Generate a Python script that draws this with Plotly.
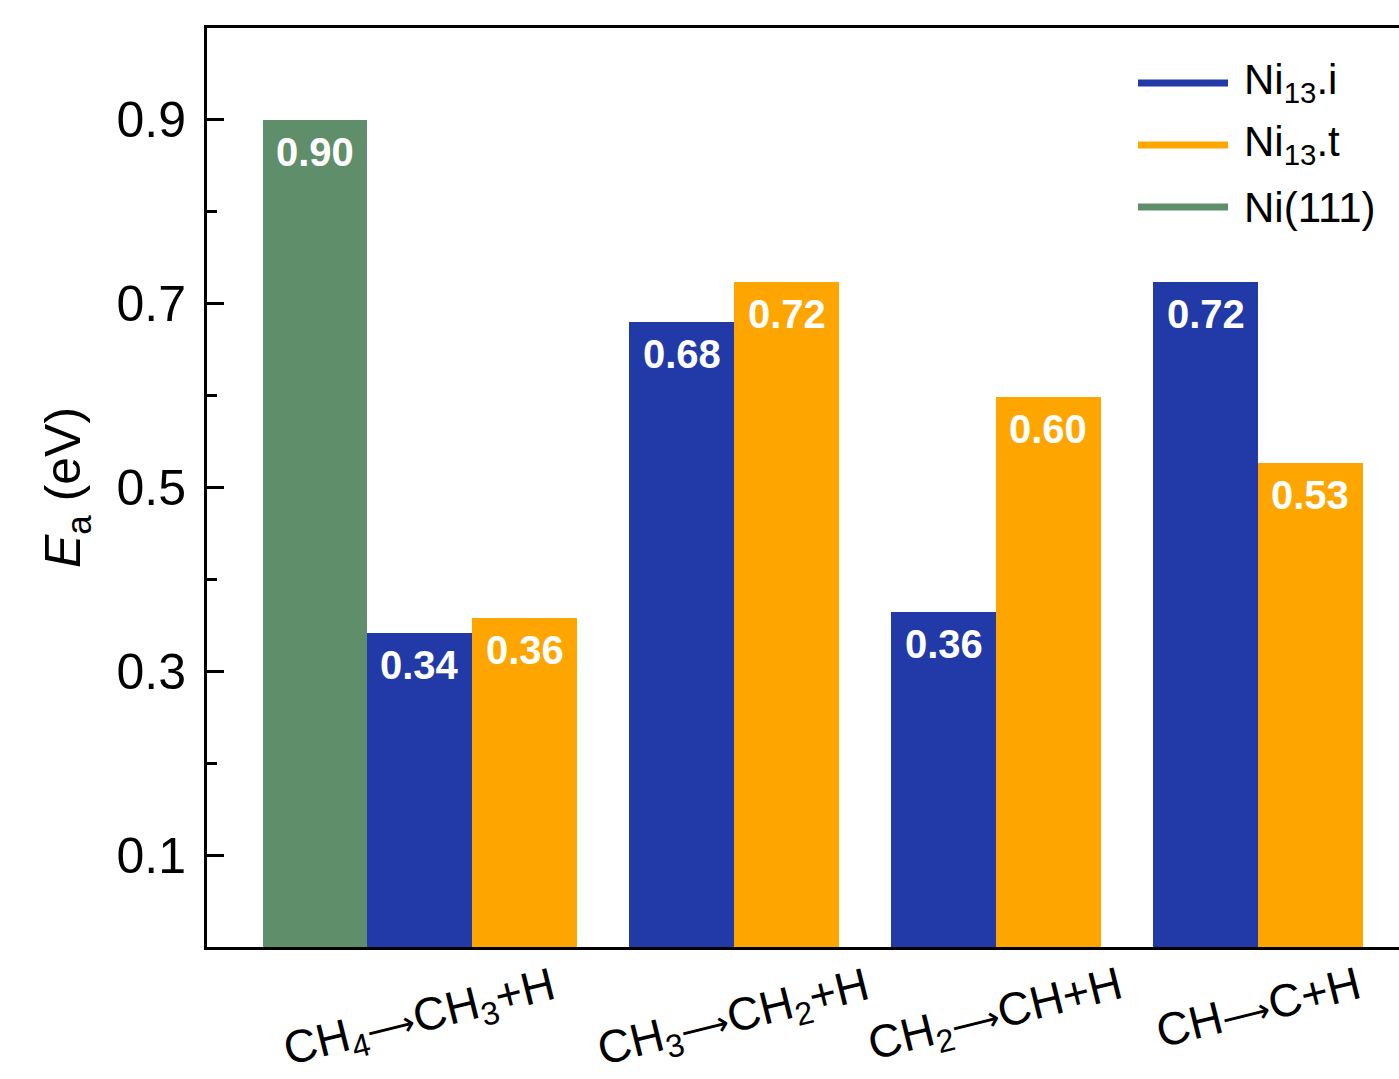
import plotly.graph_objects as go

# ---- data ----
ARROW = "<span style=\"font-family:'DejaVu Sans';font-size:34px\">⟶</span>"
categories = [f"CH<sub>4</sub>{ARROW}CH<sub>3</sub>+H", f"CH<sub>3</sub>{ARROW}CH<sub>2</sub>+H",
              f"CH<sub>2</sub>{ARROW}CH+H", f"CH{ARROW}C+H"]
ni13_i = [0.342, 0.680, 0.364, 0.724]
ni13_t = [0.358, 0.724, 0.598, 0.527]
ni111 = [0.900, None, None, None]
series_names = ["Ni<sub>13</sub>.i", "Ni<sub>13</sub>.t", "Ni(111)"]
y_ticks = [0.1, 0.3, 0.5, 0.7, 0.9]
y_minor = [0.2, 0.4, 0.6, 0.8]

# ---- style ----
C_BLUE = "#213AA8"
C_ORANGE = "#FFA500"
C_GREEN = "#5F8E6A"
FONT = "Liberation Sans, Arial, Helvetica, sans-serif"
W = 0.4
offsets = [-W / 2, W / 2, -1.5 * W]
colors = [C_BLUE, C_ORANGE, C_GREEN]
all_series = [ni13_i, ni13_t, ni111]

fig = go.Figure()
annotations = []
for vals, off, col, name in zip(all_series, offsets, colors, series_names):
    xs = [i + off for i, v in enumerate(vals) if v is not None]
    ys = [v for v in vals if v is not None]
    fig.add_trace(go.Bar(x=xs, y=ys, width=W, marker=dict(color=col, line=dict(width=0)),
                         name=name, showlegend=False))
    for x, y in zip(xs, ys):
        annotations.append(dict(x=x, y=y, xref="x", yref="y", text=f"{y:.2f}",
                                showarrow=False, yanchor="middle", xanchor="center",
                                yshift=-32,
                                font=dict(family=FONT, size=40, color="white", weight="bold")))

# category tick positions = centre of the bars present in each group
tick_pos = []
for i in range(len(categories)):
    ps = [i + off for vals, off in zip(all_series, offsets) if vals[i] is not None]
    tick_pos.append(sum(ps) / len(ps))

for x, lab in zip(tick_pos, categories):
    annotations.append(dict(x=x, y=-0.008, xref="x", yref="paper", text=lab,
                            showarrow=False, textangle=-14, yanchor="top", xanchor="center",
                            font=dict(family=FONT, size=46, color="black")))

# custom legend (lines + labels)
L, T, H = 207, 28, 919
def px(xp):
    return (xp - L) / (1399 - L)
def py(yp):
    return (T + H - yp) / H
shapes = []
for k, (name, col) in enumerate(zip(series_names, colors)):
    yy = py(83 + 62 * k)
    shapes.append(dict(type="line", xref="paper", yref="paper", x0=px(1138), x1=px(1228),
                       y0=yy, y1=yy, line=dict(color=col, width=7)))
    annotations.append(dict(x=px(1242), y=yy, xref="paper", yref="paper", text=name,
                            showarrow=False, xanchor="left", yanchor="middle",
                            font=dict(family=FONT, size=42, color="black")))

fig.update_layout(
    width=1399, height=1079,
    margin=dict(l=L, r=0, t=T, b=1079 - T - H, autoexpand=False),
    paper_bgcolor="white", plot_bgcolor="white",
    bargap=0, barmode="overlay",
    annotations=annotations, shapes=shapes,
    font=dict(family=FONT, color="black"),
)
fig.update_xaxes(range=[-1.012, 3.538], showticklabels=False, ticks="", showgrid=False,
                 zeroline=False, showline=True, linecolor="black", linewidth=3, mirror=True)
fig.update_yaxes(range=[0, 1.0], tickvals=y_ticks, ticktext=[f"{v:.1f}" for v in y_ticks],
                 ticks="inside", ticklen=17, tickwidth=2.5, tickcolor="black",
                 minor=dict(tickvals=y_minor, ticks="inside", ticklen=10, tickwidth=2.5,
                            tickcolor="black", showgrid=False),
                 showgrid=False, zeroline=False, showline=True, linecolor="black", linewidth=3,
                 tickfont=dict(family=FONT, size=50, color="black"), ticklabelstandoff=8,
                 title=dict(text="<i>E</i><sub>a</sub> (eV)", standoff=20,
                            font=dict(family=FONT, size=50, color="black")))

fig.write_html("out.html", post_script="document.body.style.margin='0';",
               config={"displayModeBar": False})
